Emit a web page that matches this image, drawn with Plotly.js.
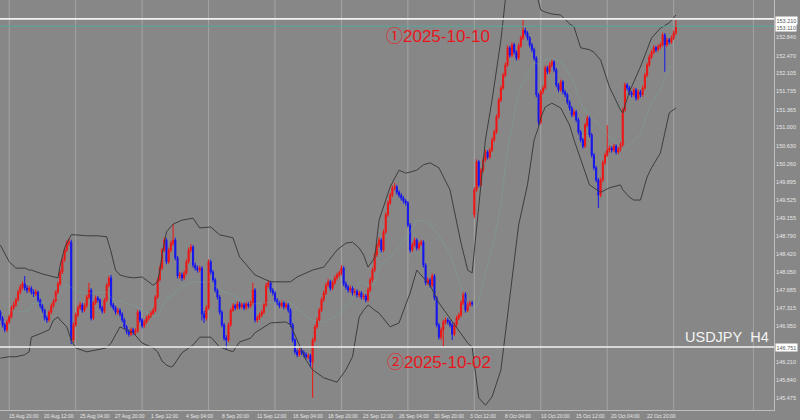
<!DOCTYPE html>
<html><head><meta charset="utf-8">
<script src="https://cdn.plot.ly/plotly-3.0.1.min.js"></script>
<style>html,body{margin:0;padding:0;background:#878787;}#chart{width:800px;height:420px;}</style>
</head><body><div id="chart"></div>
<script>
// USDJPY H4 bars, bar number 0 = 15 Aug 20:00 (weekends skipped)
const firstBar = -3;
const open = [
147.27,147.15,147.01,146.91,147.07,147.17,147.36,147.42,147.52,147.68,
147.78,147.85,147.76,147.72,147.76,147.68,147.64,147.68,147.52,147.40,
147.31,147.15,147.11,147.27,147.40,147.50,147.68,147.85,148.09,148.34,
148.54,148.68,148.70,146.70,147.01,147.21,147.36,147.42,147.31,147.40,
147.58,147.72,147.15,147.46,147.56,147.52,147.36,147.29,147.52,147.82,
147.97,147.42,147.36,147.27,147.31,147.23,147.11,146.97,146.87,146.82,
146.91,146.85,146.89,147.27,147.11,146.99,147.07,147.15,147.19,147.25,
147.31,147.58,147.93,148.17,148.54,148.74,148.30,148.54,148.68,148.74,
148.38,148.01,148.03,147.97,148.07,148.30,148.54,148.60,148.23,148.17,
148.13,148.17,147.23,147.15,147.36,148.30,148.09,147.93,147.72,147.58,
147.27,147.01,146.74,146.70,147.01,147.31,147.40,147.36,147.44,147.38,
147.42,147.36,147.44,147.40,147.46,147.72,147.11,147.15,147.21,147.27,
147.42,147.82,147.87,147.72,147.66,147.52,147.46,147.40,147.46,147.38,
147.42,147.31,147.01,146.70,146.46,146.40,146.50,146.44,146.40,146.36,
146.38,146.25,146.70,146.97,147.11,147.31,147.52,147.66,147.82,147.89,
147.76,147.87,147.97,148.03,148.07,148.17,147.85,147.78,147.72,147.76,
147.66,147.70,147.62,147.66,147.58,147.60,147.52,147.72,147.93,148.13,
148.44,148.64,148.74,148.54,148.91,149.26,149.50,149.66,149.81,149.83,
149.72,149.66,149.60,149.54,149.50,149.05,148.54,148.64,148.74,148.58,
148.66,148.70,148.23,147.87,147.93,147.82,148.01,147.56,147.01,146.76,
146.91,147.07,147.11,147.07,147.01,146.82,147.01,147.15,147.21,147.46,
147.64,147.31,147.42,147.46,149.26,149.77,150.34,149.87,150.17,150.38,
150.54,150.44,150.58,150.79,150.95,151.26,151.60,151.85,152.11,152.32,
152.67,152.52,152.73,152.58,152.46,152.71,152.87,153.03,152.97,152.87,
152.73,152.63,152.46,151.71,151.15,151.77,151.85,152.26,152.18,152.32,
152.38,152.22,151.91,151.81,151.97,151.77,151.71,151.56,151.44,151.30,
151.36,151.20,150.95,150.79,150.66,151.09,151.24,150.89,150.48,150.22,
149.97,149.66,149.97,150.32,150.48,150.58,150.62,150.58,150.66,150.54,
150.60,150.69,151.40,151.91,151.85,151.75,151.71,151.81,151.64,151.77,
151.71,151.85,152.11,152.32,152.48,152.58,152.67,152.63,152.69,152.73,
152.93,152.73,152.83,152.79,152.87,152.97];
const high = [
147.31,147.19,147.05,147.12,147.22,147.40,147.48,147.57,147.73,147.84,
147.90,148.01,147.82,147.81,147.80,147.73,147.74,147.71,147.55,147.44,
147.34,147.20,147.31,147.45,147.55,147.72,147.90,148.14,148.38,148.59,
148.74,148.78,148.75,147.06,147.26,147.41,147.48,147.46,147.45,147.63,
147.87,147.76,147.50,147.61,147.60,147.55,147.40,147.56,147.86,148.01,
148.03,147.46,147.40,147.36,147.35,147.27,147.15,147.01,146.92,146.96,
146.95,146.94,147.32,147.31,147.15,147.12,147.20,147.24,147.30,147.36,
147.62,147.97,148.22,148.58,148.80,148.78,148.59,148.73,149.07,148.79,
148.42,148.09,148.08,148.12,148.35,148.59,148.66,148.64,148.28,148.22,
148.22,148.21,147.30,147.41,148.35,148.34,148.13,147.97,147.76,147.62,
147.31,147.05,146.80,147.06,147.35,147.45,147.44,147.49,147.48,147.47,
147.46,147.49,147.48,147.51,147.87,147.76,147.20,147.26,147.32,147.47,
147.87,147.93,147.91,147.76,147.70,147.56,147.50,147.51,147.50,147.47,
147.46,147.35,147.05,146.74,146.51,146.55,146.54,146.49,146.45,146.43,
146.42,146.75,147.02,147.16,147.36,147.57,147.71,147.87,147.95,147.93,
147.92,148.02,148.08,148.12,148.23,148.21,147.90,147.83,147.81,147.80,
147.75,147.74,147.71,147.70,147.65,147.64,147.77,147.98,148.18,148.49,
148.69,148.80,148.78,148.96,149.31,149.55,149.71,149.86,149.91,149.87,
149.76,149.70,149.64,149.58,149.54,149.09,148.69,148.79,148.78,148.71,
148.75,148.74,148.27,147.98,147.97,148.06,148.05,147.60,147.05,146.96,
147.12,147.16,147.15,147.11,147.05,147.06,147.20,147.26,147.51,147.69,
147.68,147.47,147.51,147.50,149.82,150.39,150.38,150.22,150.43,150.59,
150.58,150.63,150.84,151.00,151.31,151.65,151.90,152.16,152.37,152.72,
152.71,152.78,152.77,152.62,152.76,152.92,153.26,153.08,153.01,152.91,
152.77,152.67,152.50,151.75,151.82,151.90,152.31,152.30,152.37,152.43,
152.42,152.26,151.95,152.02,152.01,151.81,151.75,151.60,151.48,151.41,
151.40,151.24,150.99,150.83,151.14,151.29,151.28,150.93,150.52,150.26,
150.01,150.02,150.37,150.53,151.09,150.67,150.66,150.71,150.70,150.65,
150.74,151.45,151.96,151.95,151.89,151.79,151.86,151.85,151.82,151.81,
151.90,152.16,152.37,152.53,152.63,152.72,152.71,152.74,152.78,152.98,
152.97,152.88,152.87,152.92,153.02,153.24];
const low = [
147.10,146.96,146.86,146.87,147.03,147.14,147.31,147.38,147.49,147.64,
147.73,147.71,147.66,147.67,147.63,147.58,147.60,147.47,147.35,147.26,
147.10,147.05,147.07,147.23,147.36,147.47,147.64,147.81,148.05,148.30,
148.50,148.62,146.62,146.66,146.97,147.17,147.32,147.26,147.27,147.36,
147.54,147.10,147.11,147.42,147.47,147.32,147.24,147.25,147.48,147.78,
147.37,147.31,147.22,147.22,147.18,147.06,146.92,146.82,146.77,146.78,
146.80,146.80,146.85,147.06,146.94,146.95,147.03,147.10,147.15,147.21,
147.27,147.54,147.89,148.13,148.50,148.25,148.26,148.49,148.63,148.33,
147.96,147.95,147.91,147.93,148.03,148.26,148.49,148.18,148.12,148.08,
148.08,147.10,147.05,147.10,147.32,148.04,147.88,147.67,147.53,147.22,
146.96,146.69,146.50,146.66,146.97,147.27,147.31,147.32,147.33,147.34,
147.31,147.32,147.35,147.36,147.42,147.06,147.06,147.11,147.17,147.23,
147.38,147.77,147.67,147.61,147.47,147.41,147.35,147.36,147.33,147.34,
147.26,146.96,146.65,146.41,146.35,146.36,146.39,146.35,146.31,146.31,
146.15,145.52,146.66,146.93,147.07,147.27,147.48,147.62,147.78,147.71,
147.72,147.83,147.92,147.98,148.02,147.80,147.73,147.67,147.67,147.61,
147.61,147.57,147.57,147.53,147.53,147.47,147.48,147.68,147.89,148.09,
148.40,148.59,148.49,148.50,148.87,149.22,149.46,149.62,149.76,149.67,
149.61,149.55,149.49,149.45,149.00,148.49,148.50,148.60,148.53,148.54,
148.62,148.18,147.82,147.82,147.77,147.78,147.51,146.96,146.71,146.70,
146.56,147.02,147.02,146.96,146.70,146.78,146.97,147.11,147.17,147.42,
147.26,147.27,147.38,147.39,149.19,149.73,149.82,149.83,150.13,150.34,
150.39,150.40,150.54,150.75,150.91,151.22,151.56,151.81,152.07,152.28,
152.47,152.48,152.53,152.41,152.42,152.67,152.83,152.92,152.82,152.68,
152.58,152.41,151.66,151.08,151.11,151.72,151.81,152.13,152.14,152.27,
152.17,151.86,151.76,151.77,151.72,151.66,151.51,151.39,151.25,151.26,
151.15,150.90,150.74,150.61,150.62,151.05,150.84,150.43,150.17,149.92,
149.40,149.62,149.93,150.28,150.44,150.53,150.53,150.54,150.49,150.50,
150.55,150.65,151.36,151.80,151.70,151.66,151.67,151.59,151.60,151.66,
151.67,151.81,152.07,152.28,152.44,152.54,152.58,152.59,152.65,152.69,
152.18,152.69,152.74,152.75,152.83,152.93];
const close = [
147.15,147.01,146.91,147.07,147.17,147.36,147.42,147.52,147.68,147.78,
147.85,147.76,147.72,147.76,147.68,147.64,147.68,147.52,147.40,147.31,
147.15,147.11,147.27,147.40,147.50,147.68,147.85,148.09,148.34,148.54,
148.68,148.70,146.70,147.01,147.21,147.36,147.42,147.31,147.40,147.58,
147.72,147.15,147.46,147.56,147.52,147.36,147.29,147.52,147.82,147.97,
147.42,147.36,147.27,147.31,147.23,147.11,146.97,146.87,146.82,146.91,
146.85,146.89,147.27,147.11,146.99,147.07,147.15,147.19,147.25,147.31,
147.58,147.93,148.17,148.54,148.74,148.30,148.54,148.68,148.74,148.38,
148.01,148.03,147.97,148.07,148.30,148.54,148.60,148.23,148.17,148.13,
148.17,147.23,147.15,147.36,148.30,148.09,147.93,147.72,147.58,147.27,
147.01,146.74,146.70,147.01,147.31,147.40,147.36,147.44,147.38,147.42,
147.36,147.44,147.40,147.46,147.72,147.11,147.15,147.21,147.27,147.42,
147.82,147.87,147.72,147.66,147.52,147.46,147.40,147.46,147.38,147.42,
147.31,147.01,146.70,146.46,146.40,146.50,146.44,146.40,146.36,146.38,
146.25,146.70,146.97,147.11,147.31,147.52,147.66,147.82,147.89,147.76,
147.87,147.97,148.03,148.07,148.17,147.85,147.78,147.72,147.76,147.66,
147.70,147.62,147.66,147.58,147.60,147.52,147.72,147.93,148.13,148.44,
148.64,148.74,148.54,148.91,149.26,149.50,149.66,149.81,149.83,149.72,
149.66,149.60,149.54,149.50,149.05,148.54,148.64,148.74,148.58,148.66,
148.70,148.23,147.87,147.93,147.82,148.01,147.56,147.01,146.76,146.91,
147.07,147.11,147.07,147.01,146.82,147.01,147.15,147.21,147.46,147.64,
147.31,147.42,147.46,147.44,149.77,150.34,149.87,150.17,150.38,150.54,
150.44,150.58,150.79,150.95,151.26,151.60,151.85,152.11,152.32,152.67,
152.52,152.73,152.58,152.46,152.71,152.87,153.03,152.97,152.87,152.73,
152.63,152.46,151.71,151.15,151.77,151.85,152.26,152.18,152.32,152.38,
152.22,151.91,151.81,151.97,151.77,151.71,151.56,151.44,151.30,151.36,
151.20,150.95,150.79,150.66,151.09,151.24,150.89,150.48,150.22,149.97,
149.66,149.97,150.32,150.48,150.58,150.62,150.58,150.66,150.54,150.60,
150.69,151.40,151.91,151.85,151.75,151.71,151.81,151.64,151.77,151.71,
151.85,152.11,152.32,152.48,152.58,152.67,152.63,152.69,152.73,152.93,
152.73,152.83,152.79,152.87,152.97,153.12];

// Bollinger bands (bar number, upper, middle, lower)
const bandBars = [-3,1,4,8,10,11,16,19,21,23,24,26,27,29,31,36,41,45,47,49,51,54,57,61,66,68,69,70,72,74,75,79,84,87,92,96,102,105,110,112,119,126,128,131,135,138,143,149,153,156,159,161,163,166,168,173,177,180,182,185,188,191,195,200,205,208,210,211,212,213,216,219,223,225,227,231,235,238,240,241,243,246,250,254,256,259,263,265,268,272,277,278,281,283,286,289,291,295,299,302];
const bandUpper = [148.64,148.30,148.17,148.17,148.13,148.13,148.05,148.01,147.99,147.97,148.23,148.58,148.68,148.85,148.85,148.83,148.83,148.81,148.50,148.13,148.03,147.99,147.97,147.99,147.82,147.89,148.13,148.44,148.91,149.03,149.07,149.15,149.19,148.99,149.01,148.85,148.79,148.40,148.13,148.03,147.89,147.89,147.89,147.99,148.07,148.13,148.19,148.54,148.68,148.70,148.58,148.44,148.19,148.38,149.15,149.83,150.17,150.11,150.13,150.17,150.28,150.32,150.22,149.77,148.68,148.13,148.07,148.54,148.99,149.46,150.79,151.60,152.83,153.65,154.16,154.50,154.36,153.95,153.61,153.44,153.40,153.36,153.34,153.16,153.10,152.67,152.63,152.58,152.42,151.87,151.40,151.34,151.77,151.97,152.28,152.63,152.87,153.07,153.18,153.34];
const bandMiddle = [147.49,147.33,147.27,147.29,147.30,147.45,147.45,147.46,147.55,147.57,147.67,147.80,147.83,147.78,147.70,147.65,147.67,147.68,147.57,147.47,147.50,147.45,147.41,147.32,147.18,147.18,147.25,147.36,147.55,147.59,147.62,147.80,147.90,147.88,147.89,147.71,147.63,147.53,147.44,147.44,147.47,147.48,147.45,147.35,147.18,147.11,147.06,147.19,147.39,147.53,147.88,147.88,147.81,147.85,148.20,148.40,148.61,148.77,148.90,149.15,149.13,149.07,148.84,148.46,147.77,147.39,147.32,147.37,147.39,147.49,148.08,148.57,149.46,150.23,150.84,151.78,152.12,152.37,152.33,152.34,152.43,152.45,152.39,152.13,151.95,151.53,151.25,151.20,151.07,150.84,150.64,150.56,150.70,150.77,150.92,151.33,151.55,151.80,152.26,152.39];
const bandLower = [146.33,146.36,146.36,146.40,146.46,146.76,146.85,146.91,147.11,147.17,147.11,147.01,146.97,146.70,146.54,146.46,146.50,146.54,146.64,146.80,146.97,146.91,146.85,146.64,146.54,146.46,146.36,146.27,146.19,146.15,146.17,146.44,146.60,146.76,146.76,146.56,146.46,146.66,146.74,146.85,147.05,147.07,147.01,146.70,146.29,146.09,145.93,145.84,146.09,146.36,147.17,147.31,147.42,147.31,147.25,146.97,147.05,147.42,147.66,148.13,147.97,147.82,147.46,147.15,146.85,146.64,146.56,146.19,145.78,145.52,145.37,145.54,146.09,146.80,147.52,149.05,149.87,150.79,151.05,151.24,151.46,151.54,151.44,151.09,150.79,150.38,149.87,149.81,149.72,149.81,149.87,149.77,149.62,149.56,149.56,150.03,150.22,150.52,151.34,151.44];

// axis labels
const timeTickBars = [0,16,32,48,64,80,96,112,128,144,160,176,192,208,224,240,256,272,288];
const timeTickLabels = ["15 Aug 20:00","20 Aug 12:00","25 Aug 04:00","27 Aug 20:00","1 Sep 12:00","4 Sep 04:00","8 Sep 20:00","11 Sep 12:00","16 Sep 04:00","18 Sep 20:00","23 Sep 12:00","26 Sep 04:00","30 Sep 20:00","3 Oct 12:00","8 Oct 04:00","10 Oct 20:00","15 Oct 12:00","20 Oct 04:00","22 Oct 20:00"];
const priceTicks = [153.575,152.840,152.470,152.105,151.735,151.365,151.000,150.630,150.260,149.895,149.525,149.155,148.790,148.420,148.050,147.685,147.315,146.950,146.210,145.840,145.475];
const weekSeparatorBars = [1,31,61,91,121,151,181,211,241,271,301,337];

// horizontal levels and their price-scale tags
const levelPrices = [153.26, 153.11, 146.56];
const levelTags = ["153.210","153.110","146.751"];
const noteTexts = ["\u24602025-10-10","\u24612025-10-02"];
const symbolText = "USDJPY\u00a0\u00a0H4";

const bars = open.map((_, k) => firstBar + k);

const levelStyles = [
  {color:'#f2f2f2', width:1.6},
  {color:'#56a89a', width:1},
  {color:'#f2f2f2', width:1.6}
];
const tagShift = [-1.5, -1, -1];

const traces = [
  {type:'scatter', mode:'lines', x:bandBars, y:bandMiddle, line:{color:'#6fb3a6', width:1}, opacity:0.35, hoverinfo:'skip'},
  {type:'scatter', mode:'lines', x:bandBars, y:bandUpper, line:{color:'#3d3d3d', width:1}, hoverinfo:'skip'},
  {type:'scatter', mode:'lines', x:bandBars, y:bandLower, line:{color:'#3d3d3d', width:1}, hoverinfo:'skip'},
  {type:'candlestick', x:bars, open:open, high:high, low:low, close:close,
   increasing:{line:{color:'#f01616', width:1}, fillcolor:'#f01616'},
   decreasing:{line:{color:'#1616f0', width:1}, fillcolor:'#1616f0'},
   whiskerwidth:0, hoverinfo:'skip'}
];

const shapes = [];
weekSeparatorBars.forEach(b => shapes.push({type:'line', xref:'x', yref:'paper', x0:b, x1:b, y0:0, y1:1, line:{color:'#a4a4a4', width:1}, layer:'below'}));
levelPrices.forEach((p, k) => shapes.push({type:'line', xref:'paper', yref:'y', x0:0, x1:1, y0:p, y1:p, line:levelStyles[k]}));

const labelFont = 'Liberation Sans, Arial, sans-serif';
const noteFont = "'Liberation Sans','Noto Sans CJK JP',sans-serif";
const annotations = [];
// time scale labels: text starts at the bar they name (MT4 style)
timeTickBars.forEach((b, k) => annotations.push({
  xref:'x', yref:'paper', x:b, y:0, xanchor:'left', yanchor:'top', yshift:-1,
  text:timeTickLabels[k], showarrow:false, font:{family:labelFont, size:5, color:'#e8e8e8'}
}));
levelPrices.forEach((p, k) => annotations.push({
  xref:'paper', yref:'y', x:1, y:p, xanchor:'left', yanchor:'middle', xshift:1, yshift:tagShift[k],
  text:levelTags[k], showarrow:false, bgcolor:'#ffffff', borderpad:0.5,
  font:{family:labelFont, size:5.5, color:'#5a5a5a'}
}));
annotations.push({xref:'paper', yref:'paper', x:0.566, y:0.91, xanchor:'center', yanchor:'middle', text:noteTexts[0], showarrow:false,
  font:{family:noteFont, size:17, color:'#e8161c'}});
annotations.push({xref:'paper', yref:'paper', x:0.567, y:0.115, xanchor:'center', yanchor:'middle', text:noteTexts[1], showarrow:false,
  font:{family:noteFont, size:17, color:'#e8161c'}});
annotations.push({xref:'paper', yref:'paper', x:0.939, y:0.179, xanchor:'center', yanchor:'middle', text:symbolText, showarrow:false,
  font:{family:labelFont, size:14.5, color:'#f4f4f4'}});

const layout = {
  width:800, height:420,
  margin:{l:0, r:26, t:0, b:10, pad:0},
  paper_bgcolor:'#878787', plot_bgcolor:'#878787',
  showlegend:false,
  xaxis:{range:[-3.16, 346.3], showticklabels:false, ticks:'',
    showgrid:false, zeroline:false, showline:true, linecolor:'#bdbdbd', linewidth:1, mirror:true,
    rangeslider:{visible:false}, fixedrange:true},
  yaxis:{side:'right', range:[145.272, 153.646], tickvals:priceTicks, ticktext:priceTicks.map(v => v.toFixed(3)),
    ticks:'', tickfont:{family:labelFont, size:5.5, color:'#e8e8e8'}, ticklabelshift:-2,
    showgrid:false, zeroline:false, showline:true, linecolor:'#bdbdbd', linewidth:1, mirror:true, fixedrange:true},
  shapes:shapes, annotations:annotations
};

Plotly.newPlot('chart', traces, layout, {staticPlot:true, displayModeBar:false});
</script>
</body></html>
